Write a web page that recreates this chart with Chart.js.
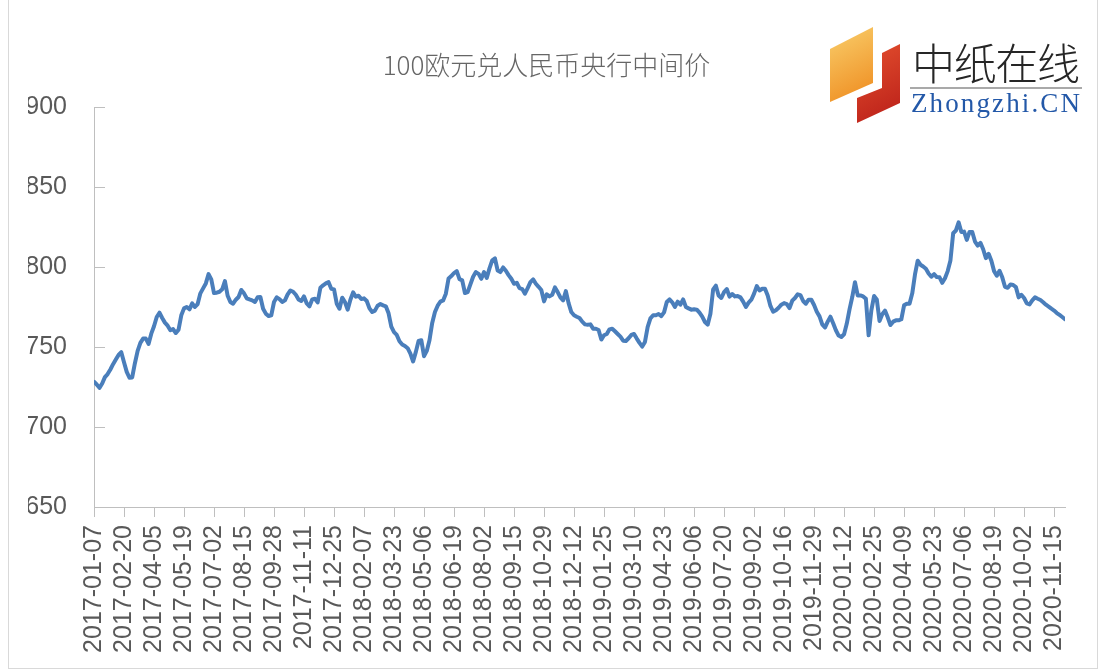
<!DOCTYPE html>
<html>
<head>
<meta charset="utf-8">
<script src="https://cdn.jsdelivr.net/npm/chart.js@4.4.1/dist/chart.umd.min.js"></script>
<style>
  html, body { margin: 0; padding: 0; background: #fff; }
  #wrap { position: relative; width: 1101px; height: 670px; overflow: hidden; }
  #frame { position: absolute; left: 8px; top: 0; width: 1090px; height: 669px; border: 1px solid #d9d9d9; border-top: none; box-sizing: border-box; pointer-events: none; }
  #logo { position: absolute; left: 0; top: 0; pointer-events: none; }
</style>
</head>
<body>
<div id="wrap">
  <canvas id="chart" width="1101" height="670"></canvas>
  <div id="frame"></div>
  <svg id="logo" width="1101" height="670">
    <defs>
      <linearGradient id="gOrange" x1="0" y1="0" x2="0.3" y2="1">
        <stop offset="0" stop-color="#f9cf6c"/>
        <stop offset="1" stop-color="#f0952a"/>
      </linearGradient>
      <linearGradient id="gRed" x1="0" y1="0" x2="0.3" y2="1">
        <stop offset="0" stop-color="#e4502e"/>
        <stop offset="1" stop-color="#c0261c"/>
      </linearGradient>
    </defs>
    <polygon points="830,49 873,27 873,83 830,102" fill="url(#gOrange)"/>
    <polygon points="882,53 900,44 900,103 857,123 857,98 882,88" fill="url(#gRed)"/>
    <text x="912" y="80" font-family="Noto Sans CJK SC" font-size="43" font-weight="300" fill="#262626" textLength="168" lengthAdjust="spacing">中纸在线</text>
    <line x1="910" y1="88" x2="1082" y2="88" stroke="#8c8c8c" stroke-width="1.5"/>
    <text x="911" y="112" font-family="Liberation Serif" font-size="27" fill="#2358a8" textLength="169" lengthAdjust="spacing">Zhongzhi.CN</text>
  </svg>
</div>
<script>
// 100欧元兑人民币央行中间价, one value every 4 days from 2017-01-07
const titleText = '100欧元兑人民币央行中间价';
const stepDays = 4;
const tickStepDays = 44;

const xTickLabels = [
  '2017-01-07', '2017-02-20', '2017-04-05', '2017-05-19', '2017-07-02', '2017-08-15',
  '2017-09-28', '2017-11-11', '2017-12-25', '2018-02-07', '2018-03-23', '2018-05-06',
  '2018-06-19', '2018-08-02', '2018-09-15', '2018-10-29', '2018-12-12', '2019-01-25',
  '2019-03-10', '2019-04-23', '2019-06-06', '2019-07-20', '2019-09-02', '2019-10-16',
  '2019-11-29', '2020-01-12', '2020-02-25', '2020-04-09', '2020-05-23', '2020-07-06',
  '2020-08-19', '2020-10-02', '2020-11-15'
];

const yTicks = [650, 700, 750, 800, 850, 900];

const rateValues = [
  728.3, 726.6, 724.5, 727.2, 731.2, 733.1, 736.0, 739.3, 742.2, 745.1,
  746.8, 740.5, 734.5, 730.8, 731.0, 739.9, 747.6, 752.6, 755.3, 755.3,
  752.0, 758.4, 763.0, 768.8, 771.5, 768.2, 765.3, 763.4, 760.5, 761.3,
  758.8, 760.9, 769.9, 774.2, 775.1, 773.6, 777.3, 775.1, 776.9, 783.6,
  786.7, 789.8, 795.6, 792.3, 783.8, 784.0, 784.6, 786.1, 791.3, 782.1,
  778.2, 777.1, 779.6, 781.3, 785.7, 783.6, 780.5, 779.8, 779.2, 778.2,
  781.1, 781.3, 774.0, 770.9, 769.4, 769.9, 778.2, 781.1, 780.0, 778.2,
  779.2, 783.0, 785.4, 784.6, 782.7, 779.8, 778.8, 781.7, 777.3, 775.5,
  779.8, 780.2, 778.0, 787.1, 788.6, 789.8, 790.6, 786.5, 786.1, 777.1,
  774.0, 780.9, 778.2, 773.4, 779.6, 784.2, 781.5, 782.1, 780.0, 780.5,
  778.8, 774.2, 771.9, 772.8, 775.9, 776.9, 776.1, 775.5, 771.1, 762.8,
  759.3, 757.6, 753.6, 751.6, 750.7, 749.3, 745.9, 741.0, 747.0, 753.8,
  754.3, 744.3, 747.6, 754.3, 765.1, 771.9, 775.9, 778.4, 779.2, 783.4,
  792.9, 794.4, 796.3, 797.5, 792.5, 791.7, 783.8, 784.4, 789.2, 794.0,
  796.9, 795.8, 792.7, 796.9, 793.3, 799.2, 804.2, 805.4, 797.9, 796.9,
  799.8, 797.7, 795.0, 792.7, 789.6, 790.2, 786.9, 786.3, 783.4, 786.9,
  790.6, 792.3, 789.6, 787.7, 785.7, 778.6, 783.0, 781.7, 782.7, 787.3,
  784.4, 781.1, 779.2, 785.0, 777.5, 771.9, 769.9, 769.0, 768.2, 765.9,
  764.2, 764.0, 764.2, 761.5, 761.5, 760.7, 754.7, 757.4, 758.2, 761.1,
  761.5, 759.9, 758.2, 756.5, 754.0, 753.8, 755.5, 757.6, 758.2, 755.3,
  752.6, 750.3, 753.2, 762.6, 768.0, 769.9, 769.9, 770.7, 769.4, 771.7,
  778.2, 779.8, 778.0, 775.1, 778.4, 776.5, 779.8, 775.1, 774.2, 773.4,
  773.6, 773.4, 771.5, 769.0, 765.7, 764.0, 770.9, 786.1, 788.4, 782.3,
  780.7, 784.4, 786.3, 781.5, 783.2, 781.7, 781.9, 781.1, 778.4, 775.1,
  777.8, 779.6, 783.4, 788.1, 785.4, 786.5, 786.5, 782.3, 775.7, 772.1,
  773.0, 774.6, 776.5, 777.5, 776.9, 774.4, 779.0, 780.7, 783.0, 782.5,
  778.8, 777.1, 779.6, 779.6, 776.3, 772.1, 769.2, 764.2, 762.2, 765.9,
  769.0, 764.9, 760.5, 757.2, 756.3, 758.0, 764.7, 773.6, 781.3, 790.6,
  782.3, 782.3, 781.7, 780.2, 757.4, 773.0, 781.9, 779.8, 766.3, 770.5,
  772.8, 768.6, 763.8, 765.9, 766.7, 766.7, 767.4, 776.1, 777.1, 777.1,
  783.6, 795.4, 804.0, 801.5, 800.4, 799.0, 796.0, 794.0, 795.6, 793.8,
  793.6, 790.2, 793.1, 797.5, 804.2, 821.2, 822.9, 828.0, 822.0, 822.2,
  817.0, 822.0, 822.0, 816.0, 813.5, 815.2, 811.2, 805.6, 808.3, 804.0,
  797.5, 794.6, 797.7, 793.6, 787.7, 787.1, 789.2, 788.8, 787.5, 781.1,
  782.7, 780.7, 777.3, 776.7, 779.2, 781.1, 780.2, 779.4, 778.0, 776.5,
  775.3, 774.0, 772.8, 771.3, 770.1, 768.8, 767.4
];

// tick marks of the value axis point into the plot area
const innerYTicks = {
  id: 'innerYTicks',
  afterDraw(chart) {
    const ctx = chart.ctx;
    const y = chart.scales.y;
    const left = chart.chartArea.left;
    ctx.save();
    ctx.strokeStyle = '#bfbfbf';
    ctx.lineWidth = 1;
    y.ticks.forEach(t => {
      const py = Math.round(y.getPixelForValue(t.value)) + 0.5;
      ctx.beginPath();
      ctx.moveTo(left, py);
      ctx.lineTo(left + 11, py);
      ctx.stroke();
    });
    ctx.restore();
  }
};

const ctx = document.getElementById('chart').getContext('2d');
new Chart(ctx, {
  type: 'line',
  data: {
    datasets: [{
      label: titleText,
      data: rateValues.map((v, i) => ({ x: i * stepDays, y: v })),
      borderColor: '#4a7ebb',
      borderWidth: 4,
      borderJoinStyle: 'round',
      borderCapStyle: 'round',
      pointRadius: 0,
      tension: 0,
      fill: false
    }]
  },
  options: {
    responsive: false,
    animation: false,
    layout: { padding: { left: 28, right: 36, top: 0, bottom: 0 } },
    plugins: {
      legend: { display: false },
      tooltip: { enabled: false },
      title: {
        display: true,
        text: titleText,
        color: '#666666',
        font: { family: '"Noto Sans CJK SC", sans-serif', size: 26, weight: 300, lineHeight: 1.2 },
        padding: { top: 50, bottom: 26 }
      }
    },
    scales: {
      x: {
        type: 'linear',
        min: 0,
        max: (rateValues.length - 1) * stepDays,
        afterBuildTicks: scale => {
          scale.ticks = xTickLabels.map((_, i) => ({ value: i * tickStepDays }));
        },
        afterFit: scale => { scale.height = 163; },
        grid: { drawOnChartArea: false, drawTicks: true, tickLength: 10, color: '#bfbfbf' },
        border: { display: true, color: '#bfbfbf' },
        ticks: {
          autoSkip: false,
          maxRotation: 90,
          minRotation: 90,
          padding: 8,
          color: '#595959',
          font: { family: '"Liberation Sans", Arial, sans-serif', size: 25 },
          callback: value => xTickLabels[Math.round(value / tickStepDays)]
        }
      },
      y: {
        min: yTicks[0],
        max: yTicks[yTicks.length - 1],
        afterBuildTicks: scale => {
          scale.ticks = yTicks.map(v => ({ value: v }));
        },
        afterFit: scale => { scale.width = 66; },
        grid: { drawOnChartArea: false, drawTicks: false },
        border: { display: true, color: '#bfbfbf' },
        ticks: {
          padding: 27,
          color: '#595959',
          font: { family: '"Liberation Sans", Arial, sans-serif', size: 25 }
        }
      }
    }
  },
  plugins: [innerYTicks]
});
</script>
</body>
</html>
